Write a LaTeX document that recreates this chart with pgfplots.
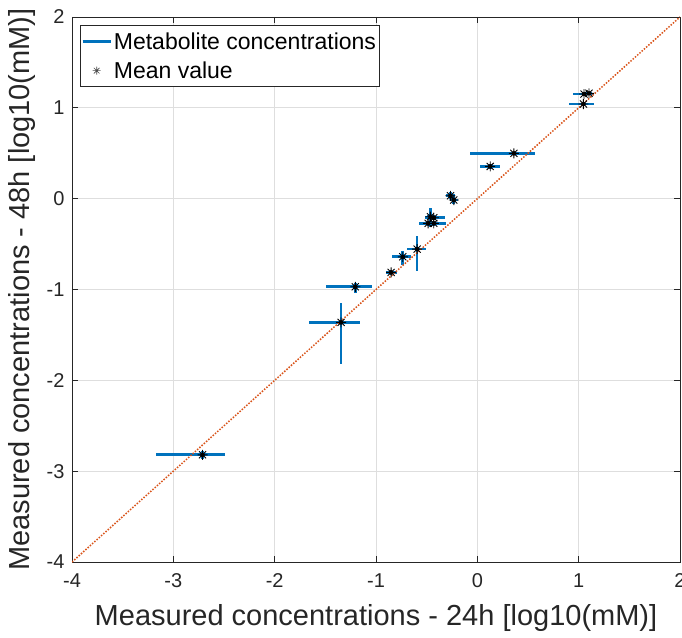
\documentclass[border=0pt]{standalone}
\usepackage{fontspec}
\setmainfont{Liberation Sans}
\usepackage{pgfplots}
\usepackage{pgfplotstable}
\pgfplotsset{compat=1.18}
\definecolor{mblue}{RGB}{0,114,189}
\definecolor{morange}{RGB}{217,83,25}
\definecolor{maxis}{RGB}{38,38,38}

% MATLAB-style asterisk: plus and cross together
\pgfdeclareplotmark{mstar}{%
  \pgfpathmoveto{\pgfqpoint{-\pgfplotmarksize}{0pt}}%
  \pgfpathlineto{\pgfqpoint{\pgfplotmarksize}{0pt}}%
  \pgfpathmoveto{\pgfqpoint{0pt}{-\pgfplotmarksize}}%
  \pgfpathlineto{\pgfqpoint{0pt}{\pgfplotmarksize}}%
  \pgfpathmoveto{\pgfpointpolar{45}{\pgfplotmarksize}}%
  \pgfpathlineto{\pgfpointpolar{225}{\pgfplotmarksize}}%
  \pgfpathmoveto{\pgfpointpolar{135}{\pgfplotmarksize}}%
  \pgfpathlineto{\pgfpointpolar{315}{\pgfplotmarksize}}%
  \pgfusepathqstroke}

% x y, then minus/plus errors in x and y (log10 units)
\pgfplotstableread{
x      y      xm    xp    ym    yp
-2.712 -2.820 0.461 0.217 0.050 0.045
-1.345 -1.362 0.315 0.185 0.460 0.209
-1.204 -0.970 0.289 0.165 0.066 0.044
-0.851 -0.812 0.046 0.059 0.030 0.030
-0.736 -0.640 0.105 0.082 0.091 0.066
-0.594 -0.555 0.099 0.092 0.239 0.143
-0.463 -0.199 0.030 0.030 0.110 0.099
-0.430 -0.210 0.082 0.109 0.030 0.030
-0.485 -0.272 0.093 0.060 0.030 0.030
-0.430 -0.272 0.080 0.116 0.030 0.030
-0.265  0.032 0.040 0.040 0.040 0.040
-0.232 -0.015 0.040 0.040 0.040 0.040
 0.127  0.355 0.105 0.093 0.030 0.030
 0.361  0.499 0.435 0.207 0.012 0.012
 1.047  1.042 0.143 0.104 0.012 0.012
 1.053  1.152 0.110 0.100 0.012 0.012
 1.102  1.160 0.030 0.030 0.012 0.012
}\metab

\begin{document}
\begin{tikzpicture}
\begin{axis}[
  name=ax,
  width=608pt, height=545pt, scale only axis,
  xmin=-4, xmax=2, ymin=-4, ymax=2,
  xtick={-4,-3,-2,-1,0,1,2}, ytick={-4,-3,-2,-1,0,1,2},
  xticklabels={-4,-3,-2,-1,0,1,2}, yticklabels={-4,-3,-2,-1,0,1,2},
  tick align=inside, major tick length=6pt,
  axis line style={maxis, line width=0.8pt},
  tick style={maxis, line width=0.8pt},
  grid=major, grid style={black!13, line width=0.8pt},
  ticklabel style={font=\fontsize{20}{24}\selectfont, text=maxis},
  xticklabel style={yshift=-8pt},
  yticklabel style={xshift=-4pt},
  xlabel={Measured concentrations - 24h [log10(mM)]},
  ylabel={Measured concentrations - 48h [log10(mM)]},
  label style={font=\fontsize{29}{33}\selectfont, text=maxis},
  xlabel style={yshift=-10pt},
  ylabel style={yshift=4pt},
  legend cell align=left,
  legend style={at={(0,1)}, xshift=8pt, yshift=-8pt, anchor=north west,
    font=\fontsize{23}{27}\selectfont, draw=maxis, line width=0.8pt,
    inner xsep=1pt, inner ysep=5pt, row sep=7pt},
]
\addplot[only marks, mark=none,
  legend image code/.code={\draw[mblue, line width=2.5pt] (0pt,0pt) -- (28pt,0pt);},
  error bars/.cd, x dir=both, y dir=both, x explicit, y explicit,
  error mark=none, error bar style={mblue, line width=2.7pt, solid}]
  table[x=x, y=y, x error plus=xp, x error minus=xm,
        y error plus=yp, y error minus=ym] {\metab};
\addlegendentry{Metabolite concentrations}
\addplot[only marks, mark=mstar, mark size=5pt, black, line width=0.9pt,
  legend image code/.code={\draw[white, line width=0pt] (0pt,0pt) -- (28pt,0pt);
    \draw[black!70, line width=0.7pt] plot[mark=mstar, mark size=4pt] coordinates {(14pt,0pt)};}]
  table[x=x, y=y] {\metab};
\addlegendentry{Mean value}
\addplot[morange, line width=1.5pt, dash pattern=on 1.5pt off 1.5pt, forget plot]
  coordinates {(-4,-4) (2,2)};
\end{axis}
\pgfresetboundingbox
\path[use as bounding box] ([xshift=-72pt,yshift=-75pt]ax.south west)
  rectangle ([xshift=2pt,yshift=17pt]ax.north east);
\end{tikzpicture}
\end{document}
